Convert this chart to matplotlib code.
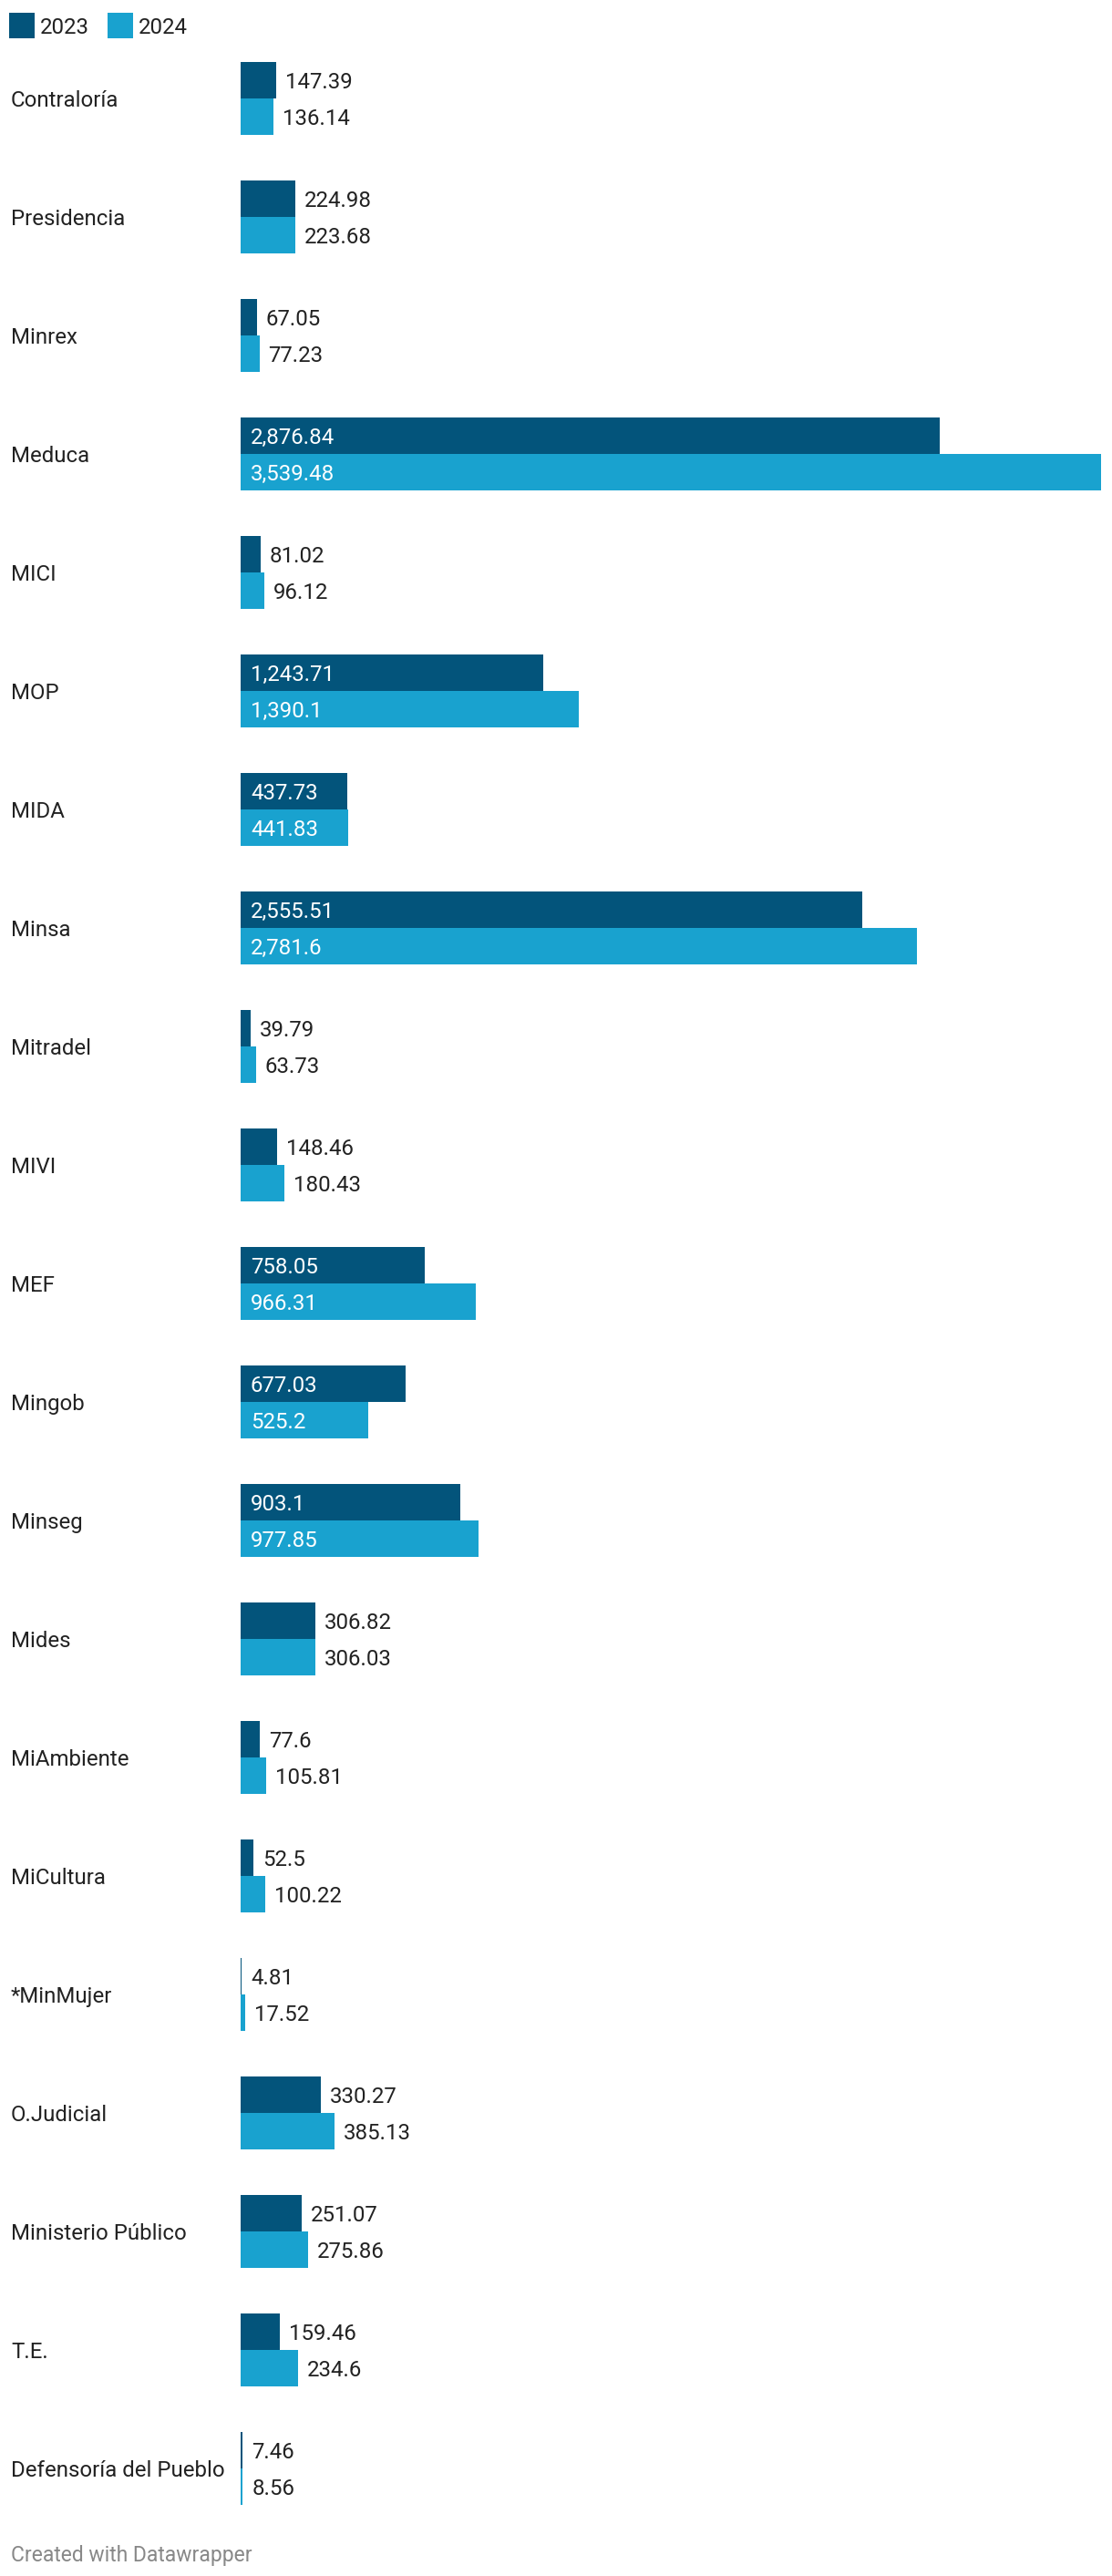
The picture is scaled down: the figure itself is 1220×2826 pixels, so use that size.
import matplotlib.pyplot as plt
from matplotlib.patches import Rectangle
from matplotlib.transforms import blended_transform_factory

# datos: presupuesto por institucion (millones)
instituciones = ['Contraloría', 'Presidencia', 'Minrex', 'Meduca', 'MICI', 'MOP',
                 'MIDA', 'Minsa', 'Mitradel', 'MIVI', 'MEF', 'Mingob', 'Minseg',
                 'Mides', 'MiAmbiente', 'MiCultura', '*MinMujer', 'O.Judicial',
                 'Ministerio Público', 'T.E.', 'Defensoría del Pueblo']
valores_2023 = [147.39, 224.98, 67.05, 2876.84, 81.02, 1243.71, 437.73, 2555.51,
                39.79, 148.46, 758.05, 677.03, 903.1, 306.82, 77.6, 52.5, 4.81,
                330.27, 251.07, 159.46, 7.46]
valores_2024 = [136.14, 223.68, 77.23, 3539.48, 96.12, 1390.1, 441.83, 2781.6,
                63.73, 180.43, 966.31, 525.2, 977.85, 306.03, 105.81, 100.22, 17.52,
                385.13, 275.86, 234.6, 8.56]
series = ['2023', '2024']

c2023 = '#03547b'
c2024 = '#19a2cf'
texto = '#222222'

W, H = 1220, 2826
fs = 17.3  # ~24px a dpi 100

plt.rcParams['font.family'] = ['Roboto', 'DejaVu Sans']

fig = plt.figure(figsize=(W / 100, H / 100), dpi=100)

# eje en pixeles de la figura: barras desde x=264 hasta x=1208
x0, x1 = 264, 1208
y_top, y_bot = 43, 43 + 130 * len(instituciones)
ax = fig.add_axes([x0 / W, 1 - y_bot / H, (x1 - x0) / W, (y_bot - y_top) / H])
ax.set_xlim(0, max(valores_2024))
ax.set_ylim(len(instituciones) - 0.5, -0.5)
ax.axis('off')

h = 40 / 130
pos = list(range(len(instituciones)))
ax.barh([p - h / 2 for p in pos], valores_2023, height=h, left=0, color=c2023, linewidth=0)
ax.barh([p + h / 2 for p in pos], valores_2024, height=h, left=0, color=c2024, linewidth=0)

px_por_unidad = (x1 - x0) / max(valores_2024)


def formato(v):
    s = f'{v:,.2f}'
    s = s.rstrip('0').rstrip('.') if '.' in s else s
    return s


def etiquetas(valores, desplaz):
    for p, v in zip(pos, valores):
        y = p + desplaz
        if v * px_por_unidad > 110:
            ax.annotate(formato(v), (0, y), xytext=(11, 0), textcoords='offset pixels',
                        ha='left', va='center_baseline', color='white', fontsize=fs)
        else:
            ax.annotate(formato(v), (v, y), xytext=(10, 0), textcoords='offset pixels',
                        ha='left', va='center_baseline', color=texto, fontsize=fs)


etiquetas(valores_2023, -h / 2)
etiquetas(valores_2024, h / 2)

# nombres de las instituciones
tr = blended_transform_factory(fig.transFigure, ax.transData)
for p, nombre in zip(pos, instituciones):
    ax.text(12 / W, p, nombre, transform=tr, ha='left', va='center_baseline',
            color=texto, fontsize=fs)

# leyenda
for xl, nombre, col in [(10, series[0], c2023), (118, series[1], c2024)]:
    fig.patches.append(Rectangle((xl / W, 1 - 42 / H), 28 / W, 28 / H,
                                 transform=fig.transFigure, color=col, linewidth=0))
    fig.text((xl + 34) / W, 1 - 28 / H, nombre, ha='left', va='center_baseline',
             color=texto, fontsize=fs)

fig.text(12 / W, 1 - 2801 / H, 'Created with Datawrapper', ha='left', va='center_baseline',
         color='#888888', fontsize=16.5)

fig.savefig('out.png', dpi=100, facecolor='white')
